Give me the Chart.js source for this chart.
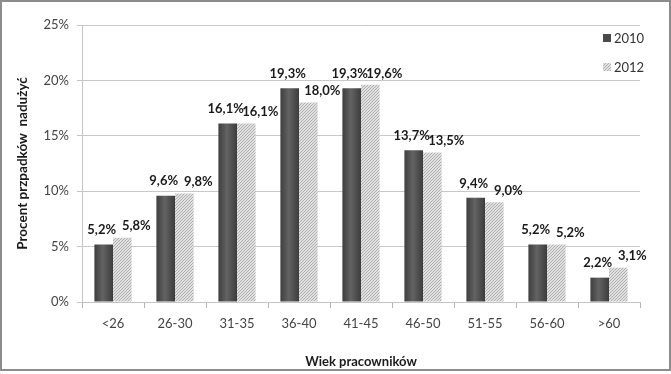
<!DOCTYPE html>
<html lang="pl">
<head>
  <meta charset="UTF-8">
  <title>Procent przypadków nadużyć</title>
  <script src="https://cdn.jsdelivr.net/npm/chart.js@4"></script>
  <style>
    html, body { margin: 0; padding: 0; background: #fff; }
    #wrap { width: 671px; height: 374px; position: relative; }
  </style>
</head>
<body>
  <div id="wrap"><canvas id="chart"></canvas></div>
  <script>
    const categories = ['<26', '26-30', '31-35', '36-40', '41-45', '46-50', '51-55', '56-60', '>60'];
    const values2010 = [5.2, 9.6, 16.1, 19.3, 19.3, 13.7, 9.4, 5.2, 2.2];
    const values2012 = [5.8, 9.8, 16.1, 18.0, 19.6, 13.5, 9.0, 5.2, 3.1];
    const seriesLabels = ['2010', '2012'];

    const FONT = 'Lato, "Open Sans", sans-serif';

    // hatched fill for 2012
    function hatch() {
      const c = document.createElement('canvas');
      c.width = 3; c.height = 3;
      const g = c.getContext('2d');
      g.fillStyle = '#e0e0e0';
      g.fillRect(0, 0, 3, 3);
      g.fillStyle = '#b0b0b0';
      g.fillRect(2, 0, 1, 1);
      g.fillRect(1, 1, 1, 1);
      g.fillRect(0, 2, 1, 1);
      return g.createPattern(c, 'repeat');
    }

    // dark bar with a horizontal shade, built from the scale position
    function darkShade(context) {
      const chart = context.chart;
      const xs = chart.scales.x;
      if (!xs || !chart.chartArea || context.dataIndex === undefined) return '#4d4d4d';
      const c = xs.getPixelForValue(context.dataIndex);
      const w = (xs.width / categories.length) * 0.6 / 2;
      const g = chart.ctx.createLinearGradient(c - w, 0, c, 0);
      g.addColorStop(0, '#3e3e3e');
      g.addColorStop(0.45, '#636363');
      g.addColorStop(1, '#3c3c3c');
      return g;
    }

    const hatchFill = hatch();
    const fmt = v => v.toFixed(1).replace('.', ',') + '%';

    // label placement like the original: 2012 labels pushed to the right
    const labelShift = [{ dx: -2, dy: 8 }, { dx: 14, dy: 5 }];

    const barLabels = {
      id: 'barLabels',
      afterDatasetsDraw(chart) {
        const ctx = chart.ctx;
        ctx.save();
        ctx.font = 'bold 13px ' + FONT;
        ctx.fillStyle = '#1a1a1a';
        ctx.textAlign = 'center';
        ctx.textBaseline = 'bottom';
        chart.data.datasets.forEach((ds, di) => {
          const s = labelShift[di];
          chart.getDatasetMeta(di).data.forEach((bar, i) => {
            ctx.fillText(fmt(ds.data[i]), bar.x + s.dx, bar.y - s.dy);
          });
        });
        ctx.restore();
      }
    };

    const sideLegend = {
      id: 'sideLegend',
      afterDraw(chart) {
        const ctx = chart.ctx;
        ctx.save();
        ctx.font = '13px ' + FONT;
        ctx.textBaseline = 'middle';
        ctx.textAlign = 'left';
        const fills = ['#4a4a4a', hatchFill];
        chart.data.datasets.forEach((ds, di) => {
          const y = 38 + di * 29;
          ctx.fillStyle = fills[di];
          ctx.fillRect(603, y - 4, 8, 8);
          ctx.fillStyle = '#333';
          ctx.fillText(ds.label, 614, y + 1);
        });
        // outer frame
        ctx.strokeStyle = '#8c8c8c';
        ctx.lineWidth = 2;
        ctx.strokeRect(1, 1, 669, 369);
        ctx.restore();
      }
    };

    new Chart(document.getElementById('chart'), {
      type: 'bar',
      data: {
        labels: categories,
        datasets: [
          { label: seriesLabels[0], data: values2010, backgroundColor: darkShade },
          { label: seriesLabels[1], data: values2012, backgroundColor: hatchFill }
        ]
      },
      options: {
        responsive: true,
        maintainAspectRatio: false,
        animation: false,
        layout: { padding: { top: 25, right: 31, bottom: 0, left: 0 } },
        datasets: { bar: { categoryPercentage: 0.6, barPercentage: 1.0 } },
        plugins: { legend: { display: false }, tooltip: { enabled: false } },
        scales: {
          x: {
            afterFit(s) { s.height = 72; },
            grid: { offset: true, drawOnChartArea: false, tickLength: 6, color: '#b5b5b5' },
            border: { color: '#c4c4c4' },
            ticks: { color: '#444', font: { family: FONT, size: 13 }, padding: 8 },
            title: {
              display: true, text: 'Wiek pracowników', color: '#1a1a1a',
              font: { family: FONT, size: 13, weight: 'bold' }, padding: { top: 2 }
            }
          },
          y: {
            min: 0, max: 25,
            afterFit(s) { s.width = 82; },
            grid: { color: '#c8c8c8', tickLength: 5 },
            border: { color: '#c4c4c4' },
            ticks: {
              stepSize: 5, color: '#444', padding: 8,
              font: { family: FONT, size: 13 },
              callback: v => v + '%'
            },
            title: {
              display: true, text: 'Procent przpadków  nadużyć', color: '#1a1a1a',
              font: { family: FONT, size: 13.5, weight: 'bold' }, padding: { top: 15, bottom: 0 }
            }
          }
        }
      },
      plugins: [barLabels, sideLegend]
    });
  </script>
</body>
</html>
